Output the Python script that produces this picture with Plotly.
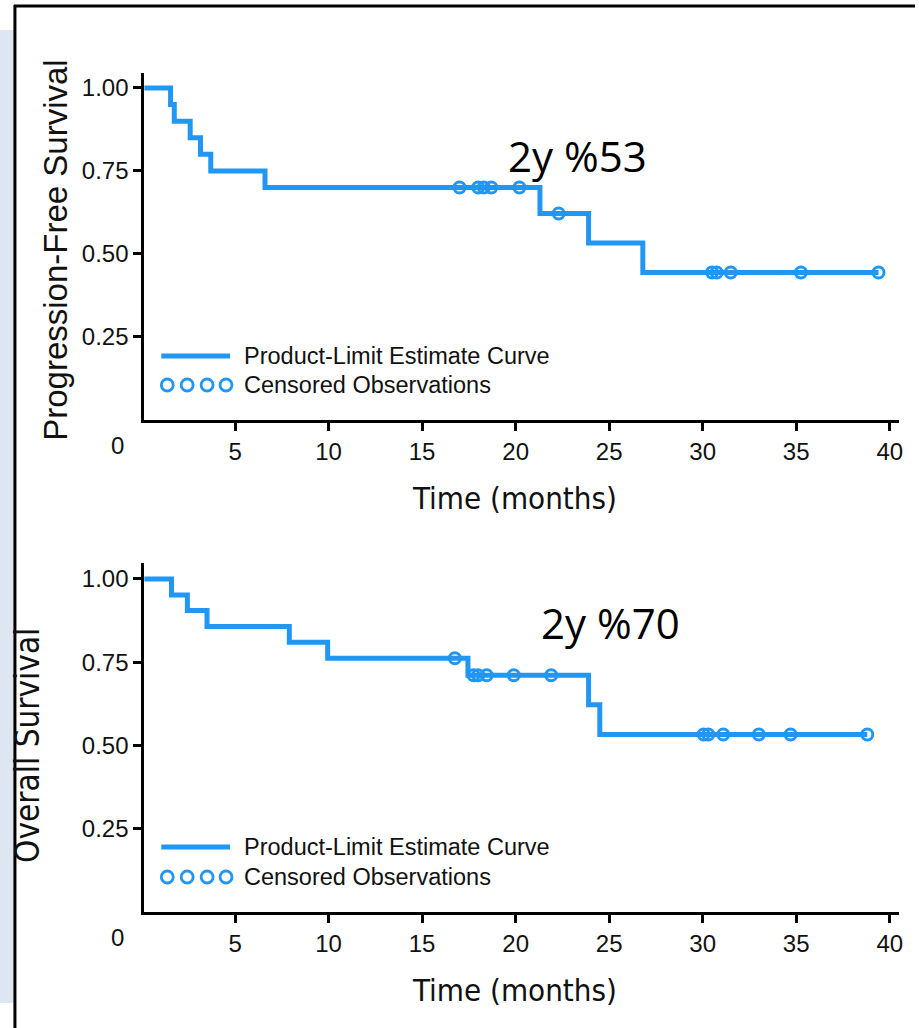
import plotly.graph_objects as go

W, H = 919, 1028
BLUE = "#2196F3"

# Progression-free survival (top panel)
pfs_times = [0, 1.55, 1.75, 2.6, 3.15, 3.7, 6.6, 21.3, 23.9, 26.8, 39.4]
pfs_surv = [1.0, 0.95, 0.90, 0.85, 0.80, 0.75, 0.70, 0.622, 0.533, 0.444, 0.444]
pfs_cens_t = [17.0, 18.0, 18.3, 18.7, 20.2, 22.3, 30.5, 30.75, 31.5, 35.25, 39.4]
pfs_cens_s = [0.70, 0.70, 0.70, 0.70, 0.70, 0.622, 0.444, 0.444, 0.444, 0.444, 0.444]

# Overall survival (bottom panel)
os_times = [0, 1.6, 2.45, 3.5, 7.9, 9.95, 17.45, 23.9, 24.5, 38.8]
os_surv = [1.0, 0.952, 0.905, 0.857, 0.81, 0.762, 0.711, 0.622, 0.533, 0.533]
os_cens_t = [16.75, 17.75, 18.0, 18.45, 19.9, 21.9, 30.05, 30.3, 31.1, 33.0, 34.7, 38.8]
os_cens_s = [0.762, 0.711, 0.711, 0.711, 0.711, 0.711, 0.533, 0.533, 0.533, 0.533, 0.533, 0.533]

x_ticks = [5, 10, 15, 20, 25, 30, 35, 40]
y_ticks = [0.25, 0.50, 0.75, 1.00]
y_tick_text = ["0.25", "0.50", "0.75", "1.00"]
legend_labels = ["Product-Limit Estimate Curve", "Censored Observations"]
notes = ["2y %53", "2y %70"]
y_titles = ["Progression-Free Survival", "Overall Survival"]
x_title = "Time (months)"


def px(x):
    return x / W


def py(y):
    return 1 - y / H


fig = go.Figure()

mk = dict(symbol="circle-open", size=11, color=BLUE, line=dict(width=3, color=BLUE))
fig.add_trace(go.Scatter(x=pfs_times, y=pfs_surv, mode="lines", line=dict(color=BLUE, width=5, shape="hv"),
                         xaxis="x", yaxis="y", showlegend=False, hoverinfo="skip"))
fig.add_trace(go.Scatter(x=pfs_cens_t, y=pfs_cens_s, mode="markers", marker=mk,
                         xaxis="x", yaxis="y", showlegend=False))
fig.add_trace(go.Scatter(x=os_times, y=os_surv, mode="lines", line=dict(color=BLUE, width=5, shape="hv"),
                         xaxis="x2", yaxis="y2", showlegend=False, hoverinfo="skip"))
fig.add_trace(go.Scatter(x=os_cens_t, y=os_cens_s, mode="markers", marker=mk,
                         xaxis="x2", yaxis="y2", showlegend=False))

tick_font = dict(family="Liberation Sans, Arial, sans-serif", size=24, color="#111")

xdom = [px(145), px(903)]
common_x = dict(range=[0.15, 40.5], showline=True, linewidth=3, linecolor="black", ticks="outside",
                ticklen=8, tickwidth=2.5, tickcolor="black", tickvals=x_ticks, showgrid=False,
                zeroline=False, domain=xdom, tickfont=tick_font)
common_y = dict(showline=True, linewidth=3, linecolor="black", ticks="outside", ticklen=8, tickwidth=2.5,
                tickcolor="black", tickvals=y_ticks, ticktext=y_tick_text, showgrid=False, zeroline=False,
                tickfont=tick_font)

fig.update_layout(
    width=W, height=H,
    margin=dict(l=0, r=0, t=0, b=0),
    paper_bgcolor="white", plot_bgcolor="white",
    xaxis=dict(**common_x, anchor="y"),
    yaxis=dict(**common_y, range=[0, 1.045], domain=[py(420), py(73)], anchor="x"),
    xaxis2=dict(**common_x, anchor="y2"),
    yaxis2=dict(**common_y, range=[0, 1.048], domain=[py(912), py(563)], anchor="x2"),
)

shapes = []
# light blue strip and frame
shapes.append(dict(type="rect", xref="paper", yref="paper", x0=0, x1=px(14), y0=py(1003), y1=py(30),
                   fillcolor="#dde6f1", line=dict(width=0), layer="below"))
shapes.append(dict(type="line", xref="paper", yref="paper", x0=px(15), x1=px(15), y0=0, y1=py(5),
                   line=dict(color="black", width=3)))
shapes.append(dict(type="line", xref="paper", yref="paper", x0=px(14), x1=1, y0=py(6), y1=py(6),
                   line=dict(color="black", width=3)))

annotations = []
legend_font = dict(family="Liberation Sans, Arial, sans-serif", size=23.5, color="#111")
for line_y, circ_y in [(356, 385), (847, 877)]:
    shapes.append(dict(type="line", xref="paper", yref="paper", x0=px(162), x1=px(231), y0=py(line_y),
                       y1=py(line_y), line=dict(color=BLUE, width=5)))
    for cx in [168, 188, 208, 227]:
        shapes.append(dict(type="circle", xref="paper", yref="paper", x0=px(cx - 6), x1=px(cx + 6),
                           y0=py(circ_y + 6), y1=py(circ_y - 6), line=dict(color=BLUE, width=2.8)))
    annotations.append(dict(text=legend_labels[0], xref="paper", yref="paper", x=px(243), y=py(line_y),
                            xanchor="left", yanchor="middle", showarrow=False, font=legend_font))
    annotations.append(dict(text=legend_labels[1], xref="paper", yref="paper", x=px(243), y=py(circ_y),
                            xanchor="left", yanchor="middle", showarrow=False, font=legend_font))

# "0" labels
annotations.append(dict(text="0", xref="paper", yref="paper", x=px(118), y=py(445), xanchor="center",
                        yanchor="middle", showarrow=False, font=tick_font))
annotations.append(dict(text="0", xref="paper", yref="paper", x=px(118), y=py(937), xanchor="center",
                        yanchor="middle", showarrow=False, font=tick_font))

cond = "DejaVu Sans Condensed, Liberation Sans Narrow, Arial Narrow, sans-serif"
xt_font = dict(family=cond, size=31, color="#111")
annotations.append(dict(text=x_title, xref="paper", yref="paper", x=px(517), y=py(498), xanchor="center",
                        yanchor="middle", showarrow=False, font=xt_font))
annotations.append(dict(text=x_title, xref="paper", yref="paper", x=px(517), y=py(990), xanchor="center",
                        yanchor="middle", showarrow=False, font=xt_font))
annotations.append(dict(text=y_titles[0], xref="paper", yref="paper", x=px(55), y=py(250), xanchor="center",
                        yanchor="middle", showarrow=False, textangle=-90,
                        font=dict(family="Liberation Sans, Arial, sans-serif", size=33, color="#111")))
annotations.append(dict(text=y_titles[1], xref="paper", yref="paper", x=px(27), y=py(745), xanchor="center",
                        yanchor="middle", showarrow=False, textangle=-90,
                        font=dict(family=cond, size=33, color="#111")))

note_font = dict(family="Open Sans, sans-serif", size=42, color="black")
annotations.append(dict(text=notes[0], xref="paper", yref="paper", x=px(580), y=py(155), xanchor="center",
                        yanchor="middle", showarrow=False, font=note_font))
annotations.append(dict(text=notes[1], xref="paper", yref="paper", x=px(613), y=py(622), xanchor="center",
                        yanchor="middle", showarrow=False, font=note_font))

fig.update_layout(shapes=shapes, annotations=annotations)
fig.write_html("out.html", config={"displayModeBar": False},
               post_script="document.body.style.margin='0';document.body.style.overflow='hidden';")
